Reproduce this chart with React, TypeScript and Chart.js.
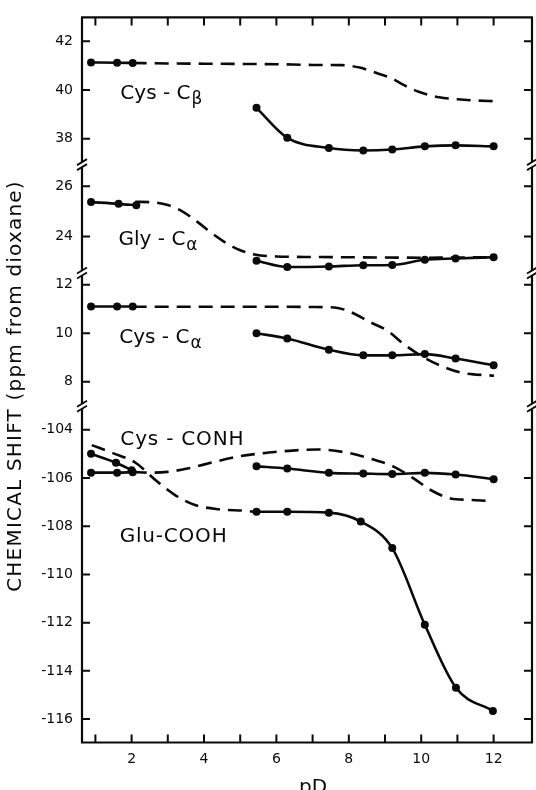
import React, { useEffect, useRef } from 'react';
import { Chart, registerables } from 'chart.js';

Chart.register(...registerables);

// ---------- data (pD values and chemical shifts, ppm from dioxane) ----------
const pdLowCys = [0.88, 1.6, 2.03];
const pdLowGly = [0.88, 1.64, 2.13];
const pdLowGlu = [0.88, 1.57, 2.0];
const pdHigh = [5.45, 6.3, 7.45, 8.4, 9.2, 10.1, 10.95, 12.0];
const pdHighGlu = [5.45, 6.3, 7.45, 8.33, 9.2, 10.1, 10.96, 11.98];

// Cys-Cβ
const cysCbLow = [41.13, 41.12, 41.11];
const cysCbHigh = [39.27, 38.04, 37.62, 37.52, 37.56, 37.69, 37.73, 37.69];
const cysCbDashX = [2.03, 3, 4, 5, 6, 7, 7.8, 8.3, 8.8, 9.2, 9.5, 9.95, 10.5, 11.0, 11.5, 12.05];
const cysCbDashY = [41.11, 41.09, 41.08, 41.07, 41.06, 41.03, 41.02, 40.92, 40.68, 40.47, 40.22, 39.92, 39.7, 39.62, 39.57, 39.54];

// Gly-Cα
const glyCaLow = [25.37, 25.3, 25.24];
const glyCaHigh = [23.03, 22.78, 22.8, 22.85, 22.86, 23.07, 23.12, 23.17];
const glyCaDashX = [2.1, 2.6, 3.0, 3.4, 3.8, 4.2, 4.6, 5.0, 5.4, 6.0, 7, 8, 9, 10, 11, 12];
const glyCaDashY = [25.38, 25.36, 25.25, 25.0, 24.6, 24.15, 23.75, 23.45, 23.28, 23.2, 23.18, 23.17, 23.16, 23.15, 23.16, 23.17];

// Cys-Cα
const cysCaLow = [11.1, 11.1, 11.1];
const cysCaHigh = [10.0, 9.78, 9.32, 9.09, 9.09, 9.14, 8.96, 8.68];
const cysCaDashX = [2.03, 3, 4, 5, 6, 7, 7.6, 7.96, 8.6, 9.07, 9.52, 10.0, 10.54, 11.09, 12.01];
const cysCaDashY = [11.09, 11.09, 11.09, 11.09, 11.09, 11.08, 11.06, 10.93, 10.45, 10.1, 9.55, 9.07, 8.66, 8.38, 8.25];

// Cys-CONH
const cysConhLow = [-105.78, -105.78, -105.76];
const cysConhHigh = [-105.52, -105.61, -105.79, -105.82, -105.84, -105.79, -105.86, -106.05];
const cysConhDashX = [2.03, 2.48, 2.99, 3.54, 4.28, 5.01, 5.66, 6.12, 7.13, 7.87, 8.6, 9.25, 9.8, 10.26, 10.81, 11.37, 11.97];
const cysConhDashY = [-105.75, -105.78, -105.75, -105.61, -105.34, -105.09, -104.97, -104.9, -104.82, -104.93, -105.2, -105.54, -106.03, -106.5, -106.85, -106.91, -106.96];

// Glu-COOH
const gluCoohLow = [-105.0, -105.37, -105.68];
const gluCoohHigh = [-107.4, -107.4, -107.44, -107.81, -108.91, -112.09, -114.7, -115.66];
const gluCoohDashX = [0.9, 1.5, 2.1, 2.7, 3.2, 3.75, 4.4, 5.2, 5.45];
const gluCoohDashY = [-104.64, -104.98, -105.36, -106.14, -106.71, -107.12, -107.3, -107.37, -107.42];

// axis ranges of the four broken panels (top to bottom)
const panelIds = ['yA', 'yB', 'yC', 'yD'];
const panelMin = [36.94, 22.54, 6.99, -116.97];
const panelMax = [42.98, 26.865, 12.48, -103.03];
const panelWeight = [148, 109, 134, 338];
const xMin = 0.63;
const xMax = 13.06;
const xMinorTicks = [1, 2, 3, 4, 5, 6, 7, 8, 9, 10, 11, 12];

const yTitle = 'CHEMICAL SHIFT (ppm from dioxane)';
const xTitle = 'pD';

const FONT = "'DejaVu Sans', sans-serif";
const INK = '#0a0a0a';

const pts = (xs: number[], ys: number[]) => xs.map((x, i) => ({ x, y: ys[i] }));

const solid = (xs: number[], ys: number[], axis: string) => ({
  data: pts(xs, ys),
  yAxisID: axis,
  borderColor: INK,
  backgroundColor: INK,
  borderWidth: 2.6,
  pointRadius: 4,
  pointBorderWidth: 0,
  cubicInterpolationMode: 'monotone' as const,
});
const dashed = (xs: number[], ys: number[], axis: string) => ({
  data: pts(xs, ys),
  yAxisID: axis,
  borderColor: INK,
  borderWidth: 2.6,
  borderDash: [14, 8],
  pointRadius: 0,
  cubicInterpolationMode: 'monotone' as const,
});

const panelLabels = [
  { axis: 'yA', x: 1.69, y: 39.63, text: 'Cys - C', sub: 'β' },
  { axis: 'yB', x: 1.64, y: 23.65, text: 'Gly - C', sub: 'α' },
  { axis: 'yC', x: 1.66, y: 9.59, text: 'Cys - C', sub: 'α' },
  { axis: 'yD', x: 1.69, y: -104.63, text: 'Cys - CONH', sub: '' },
  { axis: 'yD', x: 1.67, y: -108.66, text: 'Glu-COOH', sub: '' },
];

const framePlugin = {
  id: 'frame',
  afterDraw(chart: any) {
    const ctx = chart.ctx as CanvasRenderingContext2D;
    const { left, right, top, bottom } = chart.chartArea;
    const xs = chart.scales.x;
    ctx.save();
    ctx.strokeStyle = INK;
    ctx.fillStyle = INK;
    ctx.lineWidth = 2.2;
    ctx.lineCap = 'butt';
    // top and bottom lines
    ctx.beginPath();
    ctx.moveTo(left - 1, top);
    ctx.lineTo(right + 1, top);
    ctx.moveTo(left - 1, bottom);
    ctx.lineTo(right + 1, bottom);
    ctx.stroke();
    // break positions
    const breaks: number[] = [];
    for (let i = 0; i < panelIds.length - 1; i++) breaks.push(chart.scales[panelIds[i]].bottom);
    const gap = 2.5;
    for (const x of [left, right]) {
      ctx.lineWidth = 2.2;
      ctx.beginPath();
      let y0 = top;
      for (const b of breaks) {
        ctx.moveTo(x, y0);
        ctx.lineTo(x, b - gap);
        y0 = b + gap;
      }
      ctx.moveTo(x, y0);
      ctx.lineTo(x, bottom);
      ctx.stroke();
      ctx.lineWidth = 1.8;
      ctx.beginPath();
      for (const b of breaks) {
        for (const d of [-gap, gap]) {
          ctx.moveTo(x - 5, b + d + 3);
          ctx.lineTo(x + 5, b + d - 3);
        }
      }
      ctx.stroke();
    }
    // y ticks, inward on both sides
    ctx.lineWidth = 2;
    ctx.beginPath();
    for (const id of panelIds) {
      const s = chart.scales[id];
      for (const t of s.ticks) {
        const y = s.getPixelForValue(t.value);
        ctx.moveTo(left, y);
        ctx.lineTo(left + 8, y);
        ctx.moveTo(right, y);
        ctx.lineTo(right - 8, y);
      }
    }
    // x ticks, inward top and bottom
    for (const v of xMinorTicks) {
      const x = xs.getPixelForValue(v);
      ctx.moveTo(x, top);
      ctx.lineTo(x, top + 8);
      ctx.moveTo(x, bottom);
      ctx.lineTo(x, bottom - 8);
    }
    ctx.stroke();

    // panel labels
    ctx.textBaseline = 'alphabetic';
    ctx.textAlign = 'left';
    for (const l of panelLabels) {
      const s = chart.scales[l.axis];
      const px = xs.getPixelForValue(l.x);
      const py = s.getPixelForValue(l.y);
      ctx.font = `20px ${FONT}`;
      (ctx as any).letterSpacing = l.sub ? '0px' : '0.8px';
      ctx.fillText(l.text, px, py);
      const w = ctx.measureText(l.text).width;
      (ctx as any).letterSpacing = '0px';
      if (l.sub) {
        ctx.font = `17px ${FONT}`;
        ctx.fillText(l.sub, px + w + 1, py + 5);
      }
    }

    // y title
    ctx.save();
    ctx.translate(16, 386);
    ctx.rotate(-Math.PI / 2);
    ctx.font = `20px ${FONT}`;
    (ctx as any).letterSpacing = '1.2px';
    ctx.textAlign = 'center';
    ctx.textBaseline = 'middle';
    ctx.fillText(yTitle, 0, 0);
    ctx.restore();

    // x title
    ctx.font = `20px ${FONT}`;
    ctx.textAlign = 'center';
    ctx.textBaseline = 'alphabetic';
    ctx.fillText(xTitle, 313, 793);
    ctx.restore();
  },
};

export default function App() {
  const ref = useRef<HTMLCanvasElement | null>(null);
  useEffect(() => {
    if (!ref.current) return;
    const yScales: any = {};
    panelIds.forEach((id, i) => {
      yScales[id] = {
        type: 'linear',
        position: 'left',
        stack: 'panels',
        stackWeight: panelWeight[i],
        weight: 10 - i,
        min: panelMin[i],
        max: panelMax[i],
        grid: { display: false, drawTicks: false },
        border: { display: false },
        ticks: {
          stepSize: 2,
          includeBounds: false,
          padding: 9,
          color: INK,
          font: { family: FONT, size: 14 },
        },
        afterFit: (s: any) => {
          s.width = 82;
        },
      };
    });
    const chart = new Chart(ref.current, {
      type: 'line',
      data: {
        datasets: [
          solid(pdLowCys, cysCbLow, 'yA'),
          solid(pdHigh, cysCbHigh, 'yA'),
          dashed(cysCbDashX, cysCbDashY, 'yA'),
          solid(pdLowGly, glyCaLow, 'yB'),
          solid(pdHigh, glyCaHigh, 'yB'),
          dashed(glyCaDashX, glyCaDashY, 'yB'),
          solid(pdLowCys, cysCaLow, 'yC'),
          solid(pdHigh, cysCaHigh, 'yC'),
          dashed(cysCaDashX, cysCaDashY, 'yC'),
          solid(pdLowCys, cysConhLow, 'yD'),
          solid(pdHigh, cysConhHigh, 'yD'),
          dashed(cysConhDashX, cysConhDashY, 'yD'),
          solid(pdLowGlu, gluCoohLow, 'yD'),
          solid(pdHighGlu, gluCoohHigh, 'yD'),
          dashed(gluCoohDashX, gluCoohDashY, 'yD'),
        ] as any,
      },
      options: {
        responsive: false,
        animation: false,
        devicePixelRatio: 1,
        layout: { padding: { left: 0, right: 4, top: 13, bottom: 0 } },
        plugins: { legend: { display: false }, tooltip: { enabled: false } },
        scales: {
          x: {
            type: 'linear',
            position: 'bottom',
            min: xMin,
            max: xMax,
            grid: { display: false, drawTicks: false },
            border: { display: false },
            ticks: {
              stepSize: 2,
              includeBounds: false,
              padding: 8,
              color: INK,
              font: { family: FONT, size: 14 },
            },
            afterFit: (s: any) => {
              s.height = 47.5;
            },
          },
          ...yScales,
        },
      } as any,
      plugins: [framePlugin],
    });
    return () => chart.destroy();
  }, []);
  return (
    <div style={{ position: 'absolute', left: 0, top: 0, width: 536, height: 790, background: '#fff' }}>
      <canvas ref={ref} width={536} height={790} style={{ display: 'block' }} />
    </div>
  );
}
